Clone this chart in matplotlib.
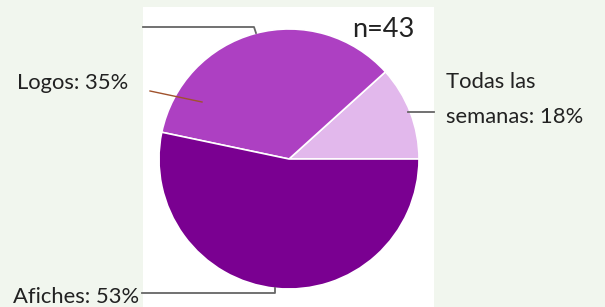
import matplotlib
matplotlib.use("Agg")
import matplotlib.pyplot as plt
from matplotlib.patches import Rectangle

# Data
categories = ["Todas las semanas", "Logos", "Afiches"]
label_pct = [18, 35, 53]          # percentages printed in labels
drawn_share = [11.7, 35.0, 53.3]  # slice sizes as drawn in the picture
colors = ["#E2B8EC", "#AD40C2", "#7A0091"]
n_text = "n=43"

W, H = 605, 307
fig = plt.figure(figsize=(W / 100, H / 100), dpi=100)
fig.patch.set_facecolor("#F1F6EE")
ax = fig.add_axes([0, 0, 1, 1])

def Y(y):
    return H - y

# white panel
ax.add_patch(Rectangle((143, 0), 291, Y(7), facecolor="white", edgecolor="none", zorder=0))

ax.pie(drawn_share, colors=colors, startangle=0, counterclock=True,
       center=(289, Y(159)), radius=130,
       wedgeprops=dict(edgecolor="white", linewidth=1.2))

ax.set_xlim(0, W)
ax.set_ylim(0, H)
ax.axis("off")

# leader lines
gray = "#666666"
ax.plot([143, 254, 256], [Y(27), Y(27), Y(33)], color=gray, lw=1.3, zorder=5)
ax.plot([408, 434], [Y(112), Y(112)], color=gray, lw=1.3, zorder=5)
ax.plot([142, 275, 275], [Y(293), Y(293), Y(288)], color=gray, lw=1.3, zorder=5)
ax.plot([150, 202], [Y(91), Y(102)], color="#A0522D", lw=1.0, zorder=5)

font = "Lato"
tc = "#222222"
fs = 15.8
ax.text(17, Y(89), f"{categories[1]}: {label_pct[1]}%", fontsize=fs, color=tc,
        family=font, ha="left", va="baseline")
ax.text(446, Y(88), "Todas las", fontsize=fs, color=tc, family=font,
        ha="left", va="baseline")
ax.text(446, Y(123), f"semanas: {label_pct[0]}%", fontsize=fs, color=tc,
        family=font, ha="left", va="baseline")
ax.text(13, Y(303), f"{categories[2]}: {label_pct[2]}%", fontsize=fs, color=tc,
        family=font, ha="left", va="baseline")
ax.text(352, Y(37), n_text, fontsize=19.5, color=tc, family=font,
        ha="left", va="baseline")

fig.savefig("out.png", dpi=100, facecolor=fig.get_facecolor())
